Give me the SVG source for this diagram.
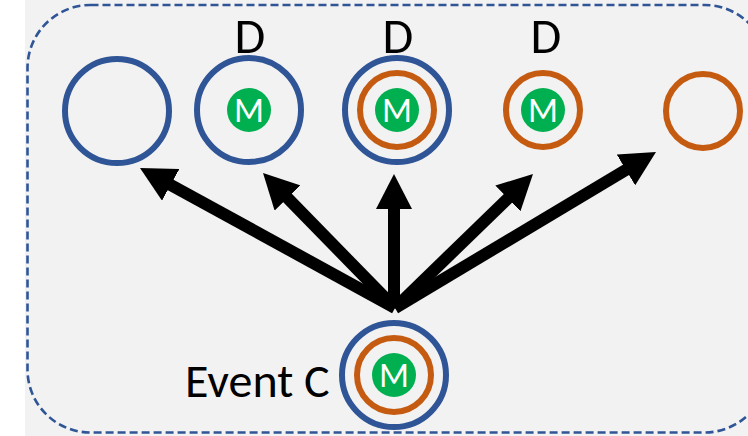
<svg xmlns="http://www.w3.org/2000/svg" width="748" height="436" viewBox="0 0 748 436">
  <style>
    .blue { fill: none; stroke: #2F5597; stroke-width: 6; }
    .orange { fill: none; stroke: #C55A11; stroke-width: 6; }
    .m-dot { fill: #00B050; }
    .m-text { fill: #FFFFFF; font-family: "Carlito", "Liberation Sans", Arial, sans-serif; font-size: 35px; text-anchor: middle; }
    .label { fill: #000000; font-family: "Carlito", "Liberation Sans", Arial, sans-serif; font-size: 50px; }
    .arrow { stroke: #000000; stroke-width: 12; fill: none; marker-end: url(#head); }
  </style>
  <defs>
    <marker id="head" markerUnits="userSpaceOnUse" markerWidth="36" markerHeight="36" refX="1" refY="18" orient="auto" viewBox="0 0 36 36">
      <path d="M0,0 L35,18 L0,36 z" fill="#000000"/>
    </marker>
  </defs>

  <!-- panel background and dashed frame -->
  <rect x="25" y="0" width="723" height="436" fill="#F2F2F2"/>
  <rect x="27.5" y="5" width="740" height="427.5" rx="63" ry="63" fill="none" stroke="#2F5597" stroke-width="2.6" stroke-dasharray="8 4"/>

  <!-- connectors -->
  <g id="connectors">
    <line class="arrow" x1="395" y1="308" x2="169.8" y2="184.4"/>
    <line class="arrow" x1="395" y1="308" x2="286.8" y2="197.3"/>
    <line class="arrow" x1="394" y1="308" x2="394" y2="208"/>
    <line class="arrow" x1="395" y1="308" x2="508.6" y2="197.7"/>
    <line class="arrow" x1="395" y1="308" x2="626.8" y2="169.4"/>
  </g>

  <g id="node1">
    <circle class="blue" cx="117" cy="111" r="52"/>
  </g>

  <g id="node2">
    <text class="label" x="250" y="53" text-anchor="middle">D</text>
    <circle class="blue" cx="249" cy="110" r="52"/>
    <circle class="m-dot" cx="249" cy="110" r="22"/>
    <text class="m-text" x="249" y="121.5">M</text>
  </g>

  <g id="node3">
    <text class="label" x="398" y="53" text-anchor="middle">D</text>
    <circle class="blue" cx="397" cy="110" r="52"/>
    <circle class="orange" cx="397" cy="110" r="37"/>
    <circle class="m-dot" cx="397" cy="110" r="22"/>
    <text class="m-text" x="397" y="121.5">M</text>
  </g>

  <g id="node4">
    <text class="label" x="546" y="53" text-anchor="middle">D</text>
    <circle class="orange" cx="543" cy="110" r="37"/>
    <circle class="m-dot" cx="543" cy="110" r="22"/>
    <text class="m-text" x="543" y="121.5">M</text>
  </g>

  <g id="node5">
    <circle class="orange" cx="703" cy="111" r="37"/>
  </g>

  <g id="eventC">
    <text class="label" x="185" y="397" style="font-size:48px">Event C</text>
    <circle class="blue" cx="394" cy="375" r="52"/>
    <circle class="orange" cx="394" cy="375" r="37"/>
    <circle class="m-dot" cx="394" cy="375" r="22"/>
    <text class="m-text" x="394" y="386.5">M</text>
  </g>
</svg>
